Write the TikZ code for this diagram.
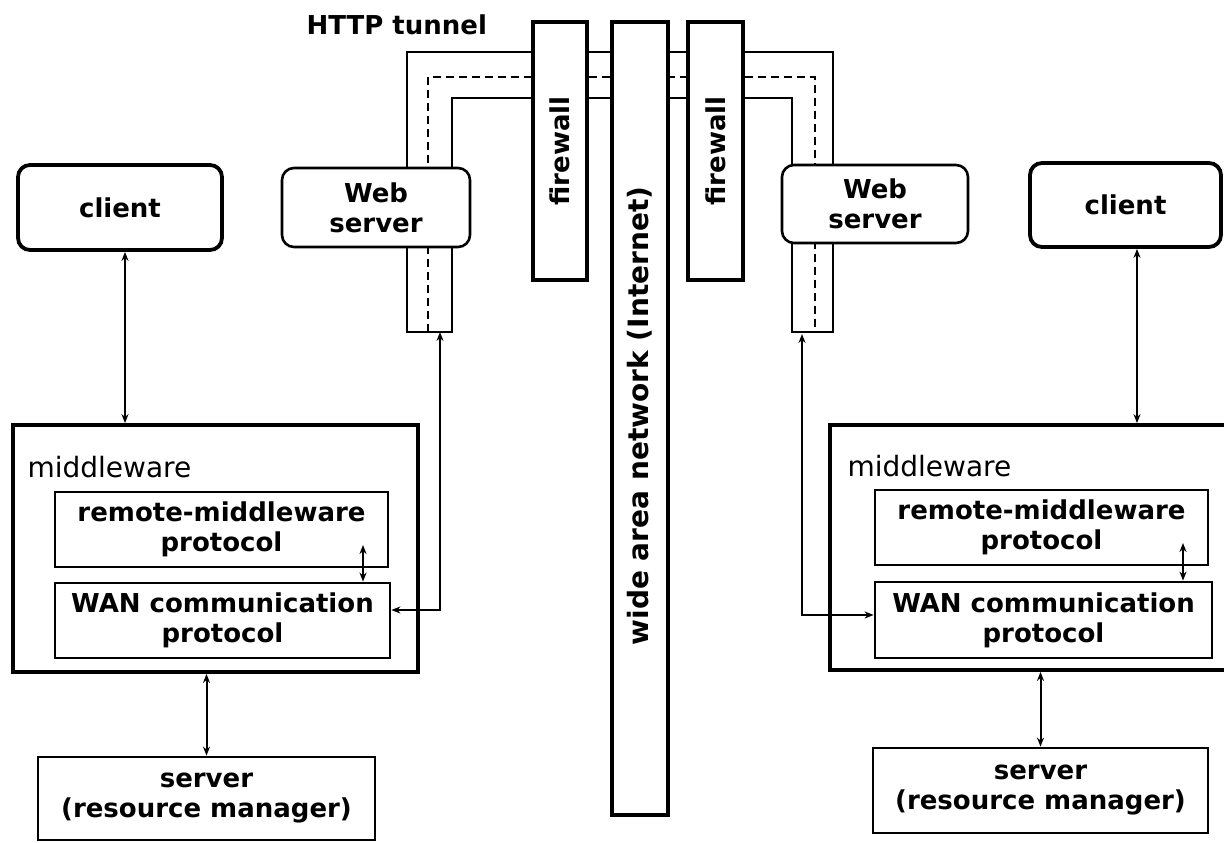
\documentclass[tikz,border=0pt]{standalone}
\usepackage{fontspec}
\setmainfont{DejaVu Sans}
\usetikzlibrary{arrows.meta,calc}
\begin{document}
\begin{tikzpicture}[x=1pt,y=-1pt,
  lbl/.style={font=\fontsize{26}{30}\selectfont\bfseries},
  thickbox/.style={draw,line width=3.8pt,fill=white,inner sep=0pt,lbl},
  thinbox/.style={draw,line width=2.8pt,fill=white,inner sep=0pt,lbl,align=center},
  roundbox/.style={draw,rounded corners=12pt,fill=white,inner sep=0pt,lbl,align=center},
  tun/.style={line width=2.2pt},
  tundash/.style={line width=2.2pt,dash pattern=on 8pt off 5pt},
  dbl/.style={line width=2pt,{Stealth[length=9pt,width=7pt]}-{Stealth[length=9pt,width=7pt]}}
]
\useasboundingbox (0,0) rectangle (1224,843);
\fill[white] (0,0) rectangle (1224,843);

% HTTP tunnel
\node[lbl,anchor=west] (http) at (303,25) {HTTP tunnel};
\draw[tun] (407,332) -- (407,52) -- (833,52) -- (833,332) -- (792,332) -- (792,98) -- (452,98) -- (452,332) -- cycle;
\draw[tundash] (428,332) -- (428,77) -- (815,77) -- (815,332);

% firewalls and WAN
\node[thickbox,minimum width=54pt,minimum height=258pt] (fwL) at (560,151) {};
\node[lbl,rotate=90] (fwLt) at (fwL) {firewall};
\node[thickbox,minimum width=55pt,minimum height=258pt] (fwR) at (715.5,151) {};
\node[lbl,rotate=90] (fwRt) at (fwR) {firewall};
\node[thickbox,minimum width=56pt,minimum height=793pt] (net) at (640,418.5) {};
\node[lbl,rotate=90,font=\fontsize{28}{32}\selectfont\bfseries] (nett) at (640,416) {wide area network (Internet)};

% web servers
\node[roundbox,line width=2.6pt,minimum width=188pt,minimum height=79pt] (wsL) at (376,207.5) {Web\\server};
\node[roundbox,line width=2.6pt,minimum width=186pt,minimum height=78pt] (wsR) at (875,204) {Web\\server};

% clients
\node[roundbox,line width=3.8pt,minimum width=204pt,minimum height=85pt] (clientL) at (120,207.5) {client};
\node[roundbox,line width=3.8pt,minimum width=191pt,minimum height=84pt] (clientR) at (1125.5,205) {client};

% middleware left
\node[thickbox,minimum width=405pt,minimum height=247pt] (mwL) at (215.5,548.5) {};
\node[anchor=west,font=\fontsize{28}{32}\selectfont] (mwLt) at (24,467) {middleware};
\node[thinbox,minimum width=333pt,minimum height=75pt] (remL) at (221.5,529.5) {remote-middleware\\protocol};
\node[thinbox,minimum width=335pt,minimum height=75pt] (wanL) at (222.5,620.5) {WAN communication\\protocol};
\node[thinbox,minimum width=337pt,minimum height=83pt] (srvL) at (206.5,798.5) {server\\(resource manager)};

% middleware right
\node[thickbox,minimum width=400pt,minimum height=245pt] (mwR) at (1030,547.5) {};
\node[anchor=west,font=\fontsize{28}{32}\selectfont] (mwRt) at (844,466) {middleware};
\node[thinbox,minimum width=333pt,minimum height=75pt] (remR) at (1041.5,527.5) {remote-middleware\\protocol};
\node[thinbox,minimum width=337pt,minimum height=76pt] (wanR) at (1043.5,620) {WAN communication\\protocol};
\node[thinbox,minimum width=335pt,minimum height=85pt] (srvR) at (1040.5,790.5) {server\\(resource manager)};

% connector coordinates
\coordinate (aL) at (125,0);
\coordinate (aR) at (1137,0);
\coordinate (rwL) at (363,545);
\coordinate (rwR) at (1183,543);
\coordinate (tunL) at (440,332);
\coordinate (tunR) at (802,334);
\coordinate (bendL) at (440,610);
\coordinate (bendR) at (802,615);

% connectors
\draw[dbl] (clientL.south -| aL) -- (mwL.north -| aL);
\draw[dbl] (clientR.south -| aR) -- (mwR.north -| aR);
\draw[dbl] (mwL.south -| srvL.north) -- (srvL.north);
\draw[dbl] (mwR.south -| srvR.north) -- (srvR.north);
\draw[dbl] (wanL.north -| rwL) -- (rwL);
\draw[dbl] (wanR.north -| rwR) -- (rwR);
\draw[dbl] (wanL.east |- bendL) -- (bendL) -- (tunL);
\draw[dbl] (tunR) -- (bendR) -- (wanR.west |- bendR);
\end{tikzpicture}
\end{document}
